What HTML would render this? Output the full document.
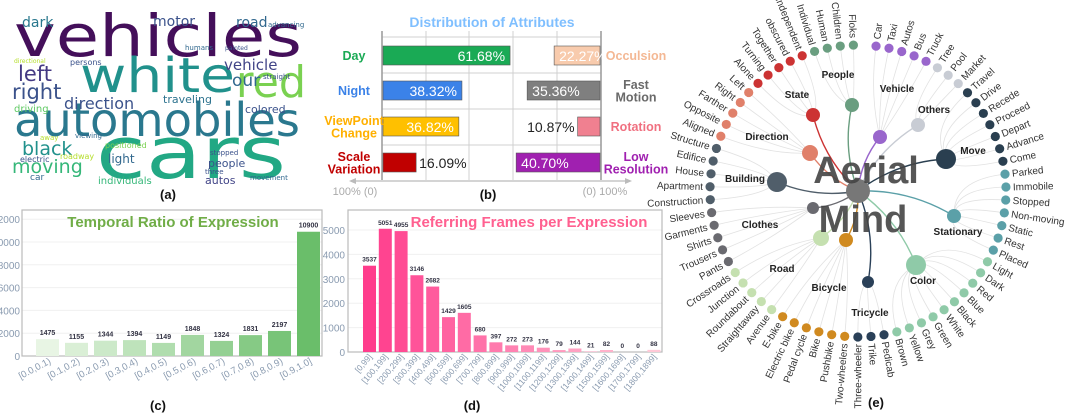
<!DOCTYPE html>
<html><head><meta charset="utf-8"><style>
body{margin:0;background:#fff;}
svg{display:block;font-family:"Liberation Sans",sans-serif;}
</style></head><body>
<svg id="s" width="1080" height="417" viewBox="0 0 1080 417" xmlns="http://www.w3.org/2000/svg">
<!-- (a) word cloud -->
<g font-family="DejaVu Sans, sans-serif">
<text x="14" y="56" font-size="58" fill="#440f5a" textLength="288" lengthAdjust="spacingAndGlyphs">vehicles</text>
<text x="80" y="92" font-size="48" fill="#21918c" textLength="155" lengthAdjust="spacingAndGlyphs">white</text>
<text x="236" y="97" font-size="44" fill="#7ad151" textLength="70" lengthAdjust="spacingAndGlyphs">red</text>
<text x="14" y="136" font-size="46" fill="#2a788e" textLength="286" lengthAdjust="spacingAndGlyphs">automobiles</text>
<text x="96" y="178" font-size="72" fill="#22a884" textLength="190" lengthAdjust="spacingAndGlyphs">cars</text>
<text x="22" y="27" font-size="14" fill="#2a788e">dark</text>
<text x="153" y="26" font-size="14" fill="#3b528b">motor</text>
<text x="236" y="27" font-size="14" fill="#31688e">road</text>
<text x="18" y="81" font-size="21" fill="#443983">left</text>
<text x="12" y="99" font-size="21" fill="#3b528b">right</text>
<text x="224" y="70" font-size="15" fill="#414487">vehicle</text>
<text x="232" y="86" font-size="17" fill="#31688e">our</text>
<text x="64" y="109" font-size="16" fill="#3b528b">direction</text>
<text x="163" y="103" font-size="11" fill="#2c728e">traveling</text>
<text x="245" y="113" font-size="11" fill="#3b528b">colored</text>
<text x="14" y="112" font-size="10" fill="#5ec962">driving</text>
<text x="22" y="155" font-size="19" fill="#21918c">black</text>
<text x="12" y="173" font-size="19" fill="#35b779">moving</text>
<text x="108" y="163" font-size="12" fill="#31688e">light</text>
<text x="208" y="167" font-size="11" fill="#3b528b">people</text>
<text x="98" y="184" font-size="10" fill="#35b779">individuals</text>
<text x="205" y="184" font-size="11" fill="#414487">autos</text>
<text x="70" y="65" font-size="8" fill="#3b528b">persons</text>
<text x="14" y="63" font-size="6" fill="#b5de2b">directional</text>
<text x="185" y="50" font-size="7" fill="#31688e">humans</text>
<text x="225" y="50" font-size="6" fill="#3b528b">painted</text>
<text x="263" y="79" font-size="7" fill="#3b528b">straight</text>
<text x="268" y="27" font-size="7" fill="#31688e">advancing</text>
<text x="40" y="140" font-size="7" fill="#b5de2b">away</text>
<text x="75" y="138" font-size="7" fill="#31688e">viewing</text>
<text x="20" y="162" font-size="8" fill="#3b528b">electric</text>
<text x="60" y="159" font-size="8" fill="#b5de2b">roadway</text>
<text x="30" y="180" font-size="9" fill="#31688e">car</text>
<text x="105" y="148" font-size="8" fill="#7ad151">positioned</text>
<text x="205" y="174" font-size="7" fill="#3b528b">three</text>
<text x="250" y="180" font-size="7" fill="#31688e">movement</text>
<text x="210" y="155" font-size="7" fill="#3b528b">stopped</text>
</g>
<text x="168" y="199" font-size="13" font-weight="bold" text-anchor="middle" fill="#111">(a)</text>

<g id="gb"></g>
<text x="488" y="199" font-size="13" font-weight="bold" text-anchor="middle" fill="#111">(b)</text>
<g id="gc"></g>
<text x="158" y="410" font-size="13" font-weight="bold" text-anchor="middle" fill="#111">(c)</text>
<g id="gd"></g>
<text x="472" y="410" font-size="13" font-weight="bold" text-anchor="middle" fill="#111">(d)</text>
<g id="ge"></g>
<text x="876" y="407" font-size="13" font-weight="bold" text-anchor="middle" fill="#111">(e)</text>
</svg>
<script>
const NS="http://www.w3.org/2000/svg";
function mk(p,t,a){const e=document.createElementNS(NS,t);for(const k in a)e.setAttribute(k,a[k]);p.appendChild(e);return e;}

// ---- (b) data
const leftLabels=[["Day"],["Night"],["ViewPoint","Change"],["Scale","Variation"]];
const leftValues=[61.68,38.32,36.82,16.09];
const rightLabels=[["Occulsion"],["Fast","Motion"],["Rotation"],["Low","Resolution"]];
const rightValues=[22.27,35.36,10.87,40.70];
// ---- (c) data
const cCats=["[0.0,0.1)","[0.1,0.2)","[0.2,0.3)","[0.3,0.4)","[0.4,0.5)","[0.5,0.6)","[0.6,0.7)","[0.7,0.8)","[0.8,0.9)","[0.9,1.0]"];
const cValues=[1475,1155,1344,1394,1149,1848,1324,1831,2197,10900];
const cTicks=[0,2000,4000,6000,8000,10000,12000];
// ---- (d) data
const dCats=["[0,99]","[100,199]","[200,299]","[300,399]","[400,499]","[500,599]","[600,699]","[700,799]","[800,899]","[900,999]","[1000,1099]","[1100,1199]","[1200,1299]","[1300,1399]","[1400,1499]","[1500,1599]","[1600,1699]","[1700,1799]","[1800,1899]"];
const dValues=[3537,5051,4955,3146,2682,1429,1605,680,397,272,273,176,79,144,21,82,0,0,88];
const dTicks=[0,1000,2000,3000,4000,5000];
// ---- (e) data
const catNames=["Vehicle","Others","Move","Stationary","Color","Tricycle","Bicycle","Road","Clothes","Building","Direction","State","People"];
const catLeaves=[["Car","Taxi","Autos","Bus","Truck"],["Tree","Pool","Market"],["Travel","Drive","Recede","Proceed","Depart","Advance","Come"],["Parked","Immobile","Stopped","Non-moving","Static","Rest","Placed"],["Light","Dark","Red","Blue","Black","White","Green","Grey","Yellow","Brown"],["Pedicab","Trike","Three-wheeler"],["Two-wheelers","Pushbike","Bike","Pedal cycle","Electric bike","E-bike"],["Avenue","Straightaway","Roundabout","Junction","Crossroads"],["Pants","Trousers","Shirts","Garments","Sleeves"],["Construction","Apartment","House","Edifice","Structure"],["Aligned","Opposite","Farther","Right","Left"],["Alone","Turning","Together","obscured","Independent"],["Individual","Human","Children","Floks"]];

// ===== (b)
(function(){
 const g=document.getElementById('gb');
 const L=382,R=601,T=31,B=180,k=2.06;
 const lc=["#1aaa55","#3b82e8","#ffc000","#c00000"], rc=["#f8cbad","#7f7f7f","#f08090","#a020b0"];
 const ltc=["#1aaa55","#3b82e8","#ffb000","#c00000"], rtc=["#f4b894","#6a6a6a","#f07080","#a020b0"];
 let t=mk(g,'text',{x:492,y:27,'font-size':14,'font-weight':'bold','text-anchor':'middle',fill:'#7fbfff'});t.textContent="Distribution of Attributes";
 
 [426,469,513,557].forEach(x=>mk(g,'line',{x1:x,y1:T,x2:x,y2:B,stroke:'#d0d0d0','stroke-width':1}));
 [37,73,109,145].forEach(y=>mk(g,'line',{x1:L,y1:y,x2:R,y2:y,stroke:'#d0d0d0','stroke-width':1}));
 mk(g,'line',{x1:L,y1:T,x2:L,y2:B,stroke:'#999','stroke-width':1.5});
 mk(g,'line',{x1:R,y1:T,x2:R,y2:B,stroke:'#999','stroke-width':1.5});
 mk(g,'line',{x1:L-30,y1:181,x2:R+28,y2:181,stroke:'#bbb','stroke-width':1.2});
 mk(g,'path',{d:`M${L-33},181 l7,-3 l0,6 z`,fill:'#bbb'});
 mk(g,'path',{d:`M${R+31},181 l-7,-3 l0,6 z`,fill:'#bbb'});
 t=mk(g,'text',{x:355,y:195,'font-size':11,fill:'#aaa','text-anchor':'middle'});t.textContent="100% (0)";
 t=mk(g,'text',{x:605,y:195,'font-size':11,fill:'#aaa','text-anchor':'middle'});t.textContent="(0) 100%";
 const rowY=[46,81,117,153],bh=19;
 leftValues.forEach((v,i)=>{
  const w=v*k;
  const r=mk(g,'rect',{x:L+1,y:rowY[i],width:w,height:bh,fill:lc[i],stroke:'#555','stroke-width':0.6});
  
  const inside=w>60;
  const tx=mk(g,'text',{x:inside?L+w-4:L+w+4,y:rowY[i]+15,'font-size':14,'text-anchor':inside?'end':'start',fill:inside?'#fff':'#222'});tx.textContent=v.toFixed(2)+"%";
  const lines=leftLabels[i];
  lines.forEach((s,j)=>{const q=mk(g,'text',{x:354,y:rowY[i]+14+(j-(lines.length-1)/2)*12.5,'font-size':12.5,'font-weight':'bold','text-anchor':'middle',fill:ltc[i]});q.textContent=s;});
 });
 rightValues.forEach((v,i)=>{
  const w=v*k;
  const r=mk(g,'rect',{x:R-1-w,y:rowY[i],width:w,height:bh,fill:rc[i],stroke:'#555','stroke-width':0.6});
  
  const inside=w>40;
  const tx=mk(g,'text',{x:inside?R-w+4:R-w-4,y:rowY[i]+15,'font-size':14,'text-anchor':inside?'start':'end',fill:inside?'#fff':'#222'});tx.textContent=v.toFixed(2)+"%";
  const lines=rightLabels[i];
  lines.forEach((s,j)=>{const q=mk(g,'text',{x:636,y:rowY[i]+14+(j-(lines.length-1)/2)*12.5,'font-size':12.5,'font-weight':'bold','text-anchor':'middle',fill:rtc[i]});q.textContent=s;});
 });
})();

// ===== (c)
(function(){
 const g=document.getElementById('gc');
 const L=22,R=322,T=210,B=356;
 const y=v=>B-v*(22.8/2000), x=i=>47.5+i*29;
 cTicks.forEach(v=>{
  if(v>0)mk(g,'line',{x1:L,y1:y(v),x2:R,y2:y(v),stroke:'#f0f0f0'});
  const t=mk(g,'text',{x:20,y:y(v)+4,'font-size':10,fill:'#8a9bb0','text-anchor':'end'});t.textContent=v;
 });
 mk(g,'rect',{x:L,y:T,width:R-L,height:B-T,fill:'none',stroke:'#bbb','stroke-width':1.2});
 const t0=mk(g,'text',{x:173,y:227,'font-size':15,'font-weight':'bold','text-anchor':'middle',fill:'#70ad47'});t0.textContent="Temporal Ratio of Expression";
 
 cValues.forEach((v,i)=>{
  const f=i/(cValues.length-1);
  const col=`rgb(${Math.round(232-126*f)},${Math.round(245-55*f)},${Math.round(228-122*f)})`;
  const r=mk(g,'rect',{x:x(i)-11.5,y:y(v),width:23,height:B-y(v),fill:col});
  
  const t=mk(g,'text',{x:x(i),y:y(v)-4,'font-size':7,'font-weight':'bold','text-anchor':'middle',fill:'#334'});t.textContent=v;
  const l=mk(g,'text',{x:x(i)+4,y:363,'font-size':9.5,fill:'#8a9bb0','text-anchor':'end',transform:`rotate(-28 ${x(i)+4} 363)`});l.textContent=cCats[i];
 });
})();

// ===== (d)
(function(){
 const g=document.getElementById('gd');
 const L=348,R=662,T=210,B=352;
 const y=v=>B-v*0.0244, x=i=>363+6.5+i*15.8;
 dTicks.forEach(v=>{
  if(v>0)mk(g,'line',{x1:L,y1:y(v),x2:R,y2:y(v),stroke:'#f0f0f0'});
  const t=mk(g,'text',{x:345,y:y(v)+4,'font-size':10,fill:'#8a9bb0','text-anchor':'end'});t.textContent=v;
 });
 mk(g,'rect',{x:L,y:T,width:R-L,height:B-T,fill:'none',stroke:'#bbb','stroke-width':1.2});
 const t0=mk(g,'text',{x:529,y:227,'font-size':15,'font-weight':'bold','text-anchor':'middle',fill:'#ff6090'});t0.textContent="Referring Frames per Expression";
 
 dValues.forEach((v,i)=>{
  const f=i/(dValues.length-1);
  const col=`rgb(255,${Math.round(60+140*f)},${Math.round(140+75*f)})`;
  const r=mk(g,'rect',{x:x(i)-6.5,y:y(v),width:13,height:Math.max(B-y(v),0),fill:col});
  
  const t=mk(g,'text',{x:x(i),y:y(v)-4,'font-size':6.5,'font-weight':'bold','text-anchor':'middle',fill:'#334'});t.textContent=v;
  const l=mk(g,'text',{x:x(i)+3,y:357,'font-size':8.5,fill:'#8a9bb0','text-anchor':'end',transform:`rotate(-50 ${x(i)+3} 357)`});l.textContent=dCats[i];
 });
})();

// ===== (e)
(function(){
 const g=document.getElementById('ge');
 const cx=858,cy=191;
 const cols=["#9966cc","#c8ccd4","#2a3f50","#5ba0a8","#8fcaa8","#2a4058","#d08a20","#c5e0b0","#6a6a70","#505e6a","#e0806a","#cc3333","#6a9e80"];
 const nodes=[[880,137,7],[918,125,7],[946,159,10],[954,216,7],[916,265,10],[868,282,6],[846,240,7],[821,238,8],[813,208,6],[777,182,10],[810,153,8],[813,115,7],[852,105,7]];
 const labs=[[897,92],[934,113],[973,154],[958,235],[923,284],[870,316],[829,291],[782,272],[760,228],[745,182],[767,140],[797,98],[838,78]];
 const ge=mk(g,'g',{}),gn=mk(g,'g',{}),gt=mk(g,'g',{});
 let idx=0;const step=5.09,a0=-83;
 catNames.forEach((c,ci)=>{
  const [nx,ny,nr]=nodes[ci];
  mk(ge,'path',{d:`M${cx},${cy} Q${(cx+nx)/2+(ny-cy)*0.15},${(cy+ny)/2-(nx-cx)*0.15} ${nx},${ny}`,fill:'none',stroke:cols[ci],'stroke-width':1.4});
  catLeaves[ci].forEach(lf=>{
   const a=(a0+idx*step)*Math.PI/180;idx++;
   const lx=cx+148*Math.cos(a),ly=cy+146*Math.sin(a);
   mk(ge,'path',{d:`M${nx},${ny} Q${cx+95*Math.cos(a)},${cy+95*Math.sin(a)} ${lx},${ly}`,fill:'none',stroke:'#e2e2e2','stroke-width':0.8});
   const d=mk(gn,'circle',{cx:lx,cy:ly,r:4.6,fill:cols[ci]});
   
   
   let deg=a*180/Math.PI;const left=Math.cos(a)<0;
   const tx=cx+155*Math.cos(a),ty=cy+153*Math.sin(a);
   const t=mk(gt,'text',{x:tx,y:ty+3.5,'font-size':10,fill:'#333','text-anchor':left?'end':'start',transform:`rotate(${left?deg+180:deg} ${tx} ${ty})`});
   t.textContent=lf;
  });
  const n=mk(gn,'circle',{cx:nx,cy:ny,r:nr,fill:cols[ci]});
  
  const t=mk(gt,'text',{x:labs[ci][0],y:labs[ci][1],'font-size':10,'font-weight':'bold','text-anchor':'middle',fill:'#222'});t.textContent=c;
 });
 mk(gn,'circle',{cx:cx,cy:cy,r:12,fill:'#777'});
 let t=mk(gt,'text',{x:cx+8,y:183,'font-size':38,'font-weight':'bold','text-anchor':'middle',fill:'#444','fill-opacity':0.9});t.textContent="Aerial";
 
 t=mk(gt,'text',{x:cx+5,y:232,'font-size':38,'font-weight':'bold','text-anchor':'middle',fill:'#444','fill-opacity':0.9});t.textContent="Mind";
 
})();
</script>
</body></html>
